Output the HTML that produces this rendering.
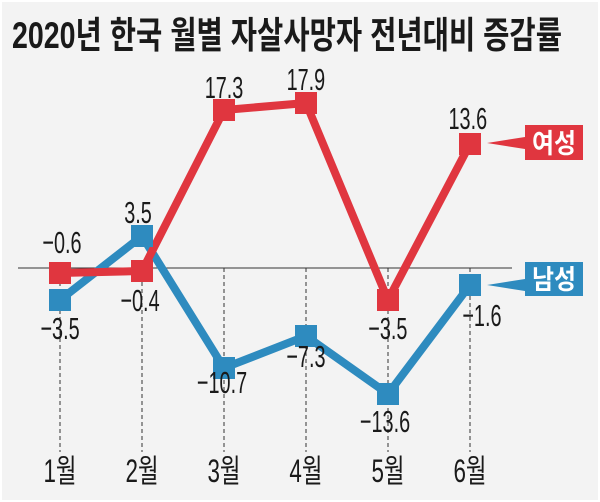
<!DOCTYPE html>
<html><head><meta charset="utf-8"><style>
html,body{margin:0;padding:0;background:#fff}
svg{display:block}
text{font-family:"Liberation Sans","Noto Sans CJK KR",sans-serif}
</style></head><body>
<svg width="600" height="502" viewBox="0 0 600 502">
<rect x="2" y="2" width="596" height="498" fill="#f3f3f3"/>
<text x="12" y="48" font-size="37" font-weight="bold" fill="#1a1a1a" textLength="550" lengthAdjust="spacingAndGlyphs">2020년 한국 월별 자살사망자 전년대비 증감률</text>
<line x1="18" y1="268" x2="512" y2="268" stroke="#333" stroke-width="1"/>
<g stroke="#333" stroke-width="1" stroke-dasharray="4,3">
<line x1="60" y1="268" x2="60" y2="452"/><line x1="142" y1="268" x2="142" y2="452"/>
<line x1="224" y1="268" x2="224" y2="452"/><line x1="306" y1="268" x2="306" y2="452"/>
<line x1="388" y1="268" x2="388" y2="452"/><line x1="470" y1="268" x2="470" y2="452"/>
</g>
<polyline points="60,300 142,236 224,368 306,336 388,394 470,285" fill="none" stroke="#2e8bbf" stroke-width="8" stroke-linejoin="miter"/>
<polyline points="60,273 142,271 224,110 306,103 388,300 470,144" fill="none" stroke="#e0363f" stroke-width="8" stroke-linejoin="miter"/>
<g fill="#e0363f">
<rect x="49" y="262" width="22" height="22"/><rect x="131" y="260" width="22" height="22"/>
<rect x="213" y="99" width="22" height="22"/><rect x="295" y="92" width="22" height="22"/>
<rect x="377" y="289" width="22" height="22"/><rect x="459" y="133" width="22" height="22"/>
<polygon points="487,143 525,137 525,149"/>
<rect x="525" y="125" width="58" height="35"/>
</g>
<g fill="#2e8bbf">
<rect x="49" y="289" width="22" height="22"/><rect x="131" y="225" width="22" height="22"/>
<rect x="213" y="357" width="22" height="22"/><rect x="295" y="325" width="22" height="22"/>
<rect x="377" y="383" width="22" height="22"/><rect x="459" y="274" width="22" height="22"/>
<polygon points="487,285 525,279 525,291"/>
<rect x="525" y="262" width="58" height="34"/>
</g>
<g font-size="27" font-weight="bold" fill="#fff" text-anchor="middle">
<text x="554" y="153" textLength="44" lengthAdjust="spacingAndGlyphs">여성</text>
<text x="554" y="289" textLength="44" lengthAdjust="spacingAndGlyphs">남성</text>
</g>
<g font-size="31" fill="#1a1a1a" text-anchor="middle" transform="scale(0.64,1)">
<text x="96.9" y="253">−0.6</text>
<text x="350" y="98">17.3</text>
<text x="478" y="90">17.9</text>
<text x="731" y="129">13.6</text>
<text x="606" y="339">−3.5</text>
<text x="215.6" y="223">3.5</text>
<text x="218.8" y="311">−0.4</text>
<text x="93.8" y="339">−3.5</text>
<text x="346.9" y="393">−10.7</text>
<text x="478" y="367">−7.3</text>
<text x="601.6" y="432">−13.6</text>
<text x="753" y="326">−1.6</text>
</g>
<g font-size="32" fill="#1a1a1a" text-anchor="middle" transform="scale(0.7,1)">
<text x="85.7" y="482">1월</text>
<text x="202.9" y="482">2월</text>
<text x="320" y="482">3월</text>
<text x="437" y="482">4월</text>
<text x="554.3" y="482">5월</text>
<text x="671.4" y="482">6월</text>
</g>
</svg>
</body></html>
